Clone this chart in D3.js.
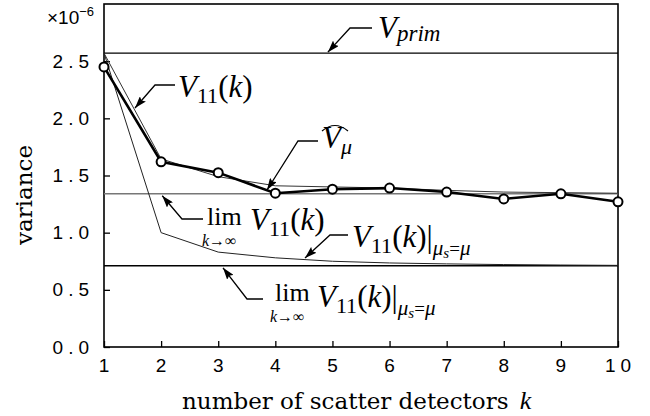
<!DOCTYPE html>
<html>
<head>
<meta charset="utf-8">
<script src="https://cdn.jsdelivr.net/npm/d3@7"></script>
<style>
body { margin: 0; background: #fff; }
.math { font-family: 'Liberation Serif', serif; }
.label { font-family: 'DejaVu Serif', serif; }
.sans { font-family: 'Liberation Sans', 'DejaVu Sans', sans-serif; }
</style>
</head>
<body>
<svg id="chart"></svg>
<script>
// data (values x1e-6)
const detectors = [1, 2, 3, 4, 5, 6, 7, 8, 9, 10];
const v11 = [2.45, 1.62, 1.525, 1.345, 1.38, 1.39, 1.355, 1.295, 1.34, 1.27];
const vMuHat = [2.57, 1.645, 1.49, 1.41, 1.40, 1.39, 1.37, 1.355, 1.35, 1.345];
const v11MuS = [2.57, 1.0, 0.83, 0.78, 0.75, 0.735, 0.727, 0.721, 0.717, 0.714];
const vPrim = 2.57;
const limV11 = 1.34;
const limV11MuS = 0.71;
const yTicks = [0, 0.5, 1.0, 1.5, 2.0, 2.5];
const xTicks = detectors;

const width = 650, height = 416;
const svg = d3.select('#chart').attr('width', width).attr('height', height);

const x = d3.scaleLinear().domain([1, 10]).range([104, 618]);
const y = d3.scaleLinear().domain([0, 3]).range([347, 4]);

// arrow head
svg.append('defs').append('marker')
    .attr('id', 'head')
    .attr('markerUnits', 'userSpaceOnUse')
    .attr('markerWidth', 13).attr('markerHeight', 8)
    .attr('refX', 12).attr('refY', 4)
    .attr('orient', 'auto')
    .append('path').attr('d', 'M0,0 L12,4 L0,8 L2,4 Z').attr('fill', '#000');

// axes with inward ticks
const yAxis = svg.append('g').attr('transform', `translate(${x(1)},0)`)
    .call(d3.axisLeft(y).tickValues(yTicks).tickSize(-6).tickPadding(10).tickFormat(d3.format('.1f')));
const xAxis = svg.append('g').attr('transform', `translate(0,${y(0)})`)
    .call(d3.axisBottom(x).tickValues(xTicks).tickSize(-6).tickPadding(12).tickFormat(d3.format('d')));
[yAxis, xAxis].forEach(a => {
    a.attr('font-family', null).attr('font-size', null);
    a.select('.domain').remove();
    a.selectAll('line').attr('stroke', '#000').attr('stroke-width', 1.3);
    a.selectAll('text').attr('class', 'sans').style('font-size', '19px')
        .attr('fill', '#000').style('letter-spacing', '5px');
});
xAxis.selectAll('text').attr('dx', 2);

// frame
svg.append('rect')
    .attr('x', x(1)).attr('y', y(3))
    .attr('width', x(10) - x(1)).attr('height', y(0) - y(3))
    .attr('fill', 'none').attr('stroke', '#000').attr('stroke-width', 1.6);

// horizontal reference levels
svg.append('line').attr('x1', x(1)).attr('x2', x(10)).attr('y1', y(vPrim)).attr('y2', y(vPrim))
    .attr('stroke', '#000').attr('stroke-width', 1.2);
svg.append('line').attr('x1', x(1)).attr('x2', x(10)).attr('y1', y(limV11)).attr('y2', y(limV11))
    .attr('stroke', '#777').attr('stroke-width', 1.5);
svg.append('line').attr('x1', x(1)).attr('x2', x(10)).attr('y1', y(limV11MuS)).attr('y2', y(limV11MuS))
    .attr('stroke', '#000').attr('stroke-width', 1.5);

const line = d3.line().x((d, i) => x(detectors[i])).y(d => y(d));

svg.append('path').datum(vMuHat).attr('d', line)
    .attr('fill', 'none').attr('stroke', '#333').attr('stroke-width', 1);
svg.append('path').datum(v11MuS).attr('d', line)
    .attr('fill', 'none').attr('stroke', '#222').attr('stroke-width', 1);
svg.append('path').datum(v11).attr('d', line)
    .attr('fill', 'none').attr('stroke', '#000').attr('stroke-width', 2.6);
svg.selectAll('circle.pt').data(v11).enter().append('circle')
    .attr('class', 'pt')
    .attr('cx', (d, i) => x(detectors[i])).attr('cy', d => y(d))
    .attr('r', 4.5).attr('fill', '#fff').attr('stroke', '#000').attr('stroke-width', 2);

// math text helper: parts = [text, size, italic, baseline offset]
function mathText(px, py, parts) {
    const t = svg.append('text').attr('class', 'math').attr('x', px).attr('y', py)
        .attr('fill', '#000');
    let cur = 0;
    parts.forEach(p => {
        t.append('tspan').text(p[0]).style('font-size', p[1] + 'px')
            .style('font-style', p[2] ? 'italic' : 'normal')
            .attr('dy', p[3] - cur);
        cur = p[3];
    });
    return t;
}
const V11k = [['V', 31, true, 0], ['11', 22, false, 6], ['(', 31, false, 0], ['k', 31, true, 0], [')', 31, false, 0]];
const bar = [['|', 31, false, 0], ['μ', 21, true, 8], ['s', 15, true, 11], ['=', 19, false, 8], ['μ', 21, true, 8]];

function limText(px, py) {
    mathText(px, py, [['lim', 26, false, 0]]);
    mathText(px - 5, py + 21, [['k', 16, true, 0], ['→∞', 16, false, 0]]);
}

function arrow(pts) {
    svg.append('path').attr('d', d3.line()(pts))
        .attr('fill', 'none').attr('stroke', '#000').attr('stroke-width', 1.3)
        .attr('marker-end', 'url(#head)');
}

// V_prim
arrow([[372, 28], [350, 28], [x(4.92), y(vPrim) - 1]]);
mathText(378, 38, [['V', 31, true, 0], ['prim', 23, true, 3]]);

// V11(k)
arrow([[175, 85], [155, 85], [135, 108]]);
mathText(178, 97, V11k);

// V-hat mu
arrow([[318, 141], [298, 141], [267, 190]]);
mathText(322, 148, [['V', 31, true, 0], ['μ', 22, true, 6]]);
svg.append('path').attr('d', 'M322,131 Q335,120 348,131')
    .attr('fill', 'none').attr('stroke', '#000').attr('stroke-width', 1.2);

// lim V11(k)
arrow([[203, 219], [182, 219], [x(2.02), y(limV11) + 2]]);
limText(207, 225);
mathText(250, 230, V11k);

// V11(k)|mu_s=mu
arrow([[348, 235], [330, 235], [305, 258]]);
mathText(352, 247, V11k.concat(bar));

// lim V11(k)|mu_s=mu
arrow([[263, 299], [247, 299], [223, y(limV11MuS) + 2]]);
limText(275, 301);
mathText(317, 307, V11k.concat(bar));

// axis titles
svg.append('text').attr('class', 'label').attr('transform', 'translate(32,195) rotate(-90)')
    .attr('text-anchor', 'middle').style('font-size', '23px')
    .text('variance');
const xl = svg.append('text').attr('class', 'label').attr('x', 182).attr('y', 409)
    .style('font-size', '23px');
xl.append('tspan').text('number of scatter detectors ');
xl.append('tspan').attr('class', 'math').style('font-style', 'italic').style('font-size', '26px')
    .attr('dx', 4).text('k');

const sc = svg.append('text').attr('class', 'sans').attr('x', 47).attr('y', 24)
    .style('font-size', '19px');
sc.append('tspan').text('×10');
sc.append('tspan').style('font-size', '13px').attr('dy', -8).text('−6');
</script>
</body>
</html>
